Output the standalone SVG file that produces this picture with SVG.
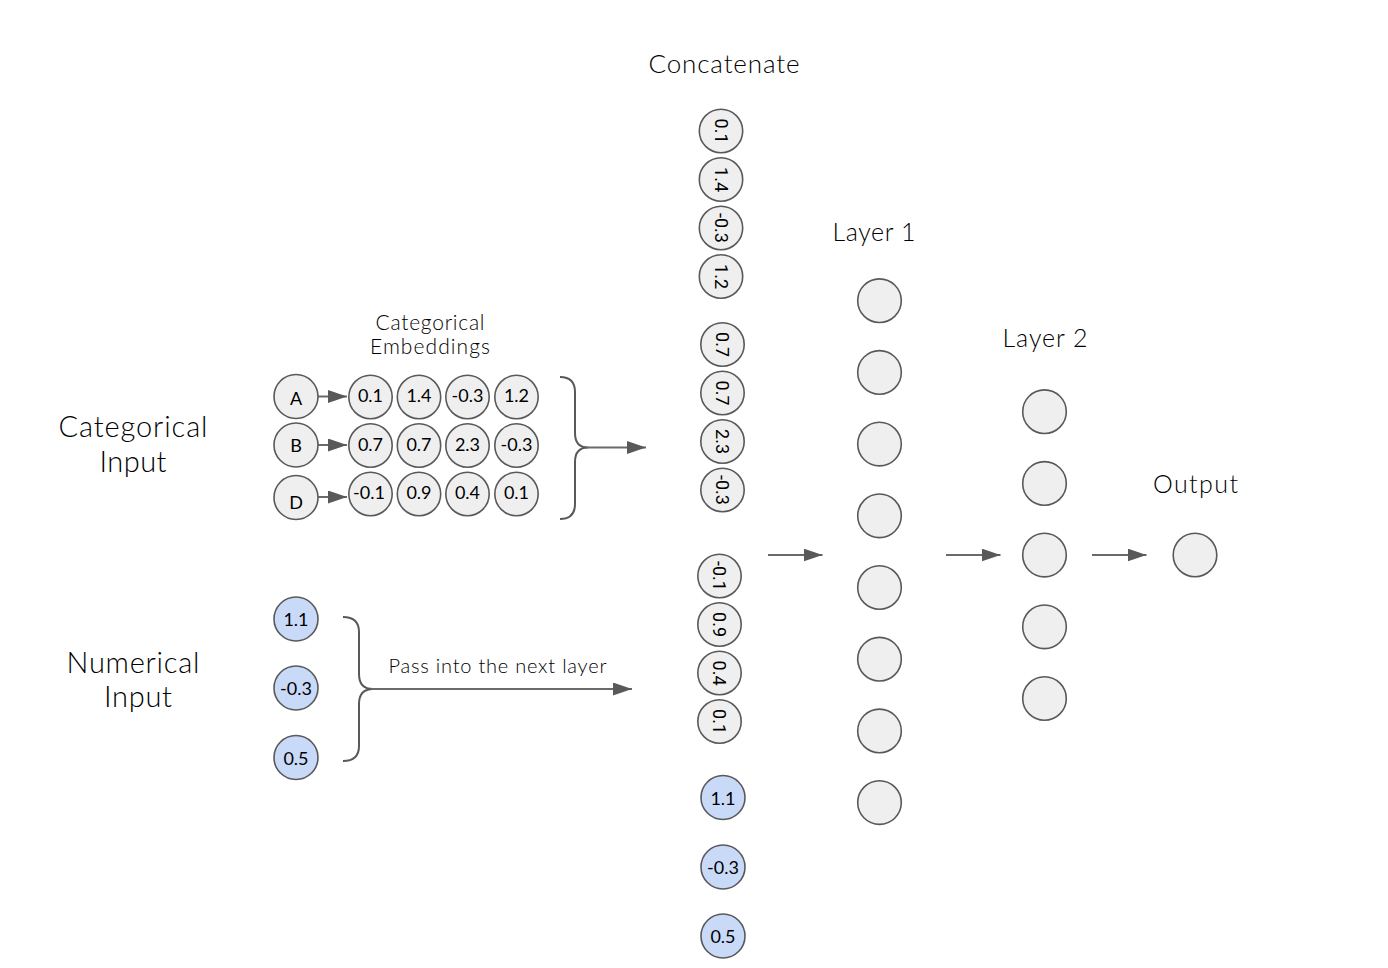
<svg xmlns="http://www.w3.org/2000/svg" width="1388" height="968" viewBox="0 0 1388 968">
<defs>
<marker id="ah" markerUnits="userSpaceOnUse" markerWidth="19" markerHeight="13" refX="19" refY="6.5" orient="auto">
<path d="M0,0 L19,6.5 L0,13 z" fill="#595959"/>
</marker>
<style>
.lbl{font-family:Lato,"Liberation Sans",sans-serif;font-weight:300;fill:#000;text-anchor:middle}
.n{fill:#efefef;stroke:#595959;stroke-width:1.6}
.b{fill:#c9daf8;stroke:#595959;stroke-width:1.6}
.t{font-family:Lato,"Liberation Sans",sans-serif;font-weight:400;font-size:18px;fill:#000;text-anchor:middle;dominant-baseline:central}
.r{font-family:Roboto,"Liberation Sans",sans-serif;font-weight:400;font-size:18px;fill:#000;text-anchor:middle;dominant-baseline:central}
.ln{fill:none;stroke:#6a6a6a;stroke-width:2}
.br{fill:none;stroke:#595959;stroke-width:2}
</style>
</defs>
<rect width="1388" height="968" fill="#fff"/>

<g id="labels">
<text class="lbl" x="724" y="73" font-size="26" textLength="151" lengthAdjust="spacing">Concatenate</text>
<text class="lbl" x="874" y="240.5" font-size="25" textLength="83" lengthAdjust="spacing">Layer 1</text>
<text class="lbl" x="1045" y="346.5" font-size="25" textLength="85" lengthAdjust="spacing">Layer 2</text>
<text class="lbl" x="1195.5" y="493" font-size="25" textLength="85" lengthAdjust="spacing">Output</text>
<text class="lbl" x="133" y="436.5" font-size="29" textLength="149" lengthAdjust="spacing">Categorical</text>
<text class="lbl" x="133" y="471.5" font-size="29" textLength="67" lengthAdjust="spacing">Input</text>
<text class="lbl" x="133" y="673" font-size="29" textLength="133" lengthAdjust="spacing">Numerical</text>
<text class="lbl" x="138" y="706.5" font-size="29" textLength="68" lengthAdjust="spacing">Input</text>
<text class="lbl" x="430" y="330" font-size="21" textLength="109" lengthAdjust="spacing">Categorical</text>
<text class="lbl" x="430" y="353.5" font-size="21" textLength="120" lengthAdjust="spacing">Embeddings</text>
<text class="lbl" x="497.5" y="673" font-size="20" textLength="218" lengthAdjust="spacing">Pass into the next layer</text>
</g>

<g id="connectors">
<line class="ln" x1="318" y1="396.5" x2="347" y2="396.5" marker-end="url(#ah)"/>
<line class="ln" x1="318" y1="445" x2="347" y2="445" marker-end="url(#ah)"/>
<line class="ln" x1="318" y1="497" x2="347" y2="497" marker-end="url(#ah)"/>
<path class="br" d="M560,377 Q575,377 575,392 L575,433 Q575,447.5 588,447.5 Q575,447.5 575,462 L575,504 Q575,519 560,519"/>
<line class="ln" x1="586" y1="447.5" x2="646" y2="447.5" marker-end="url(#ah)"/>
<path class="br" d="M343,617 Q359,617 359,632 L359,674 Q359,689 373,689 Q359,689 359,704 L359,746 Q359,761 343,761"/>
<line class="ln" x1="371" y1="689" x2="632" y2="689" marker-end="url(#ah)"/>
<line class="ln" x1="768" y1="555" x2="822.5" y2="555" marker-end="url(#ah)"/>
<line class="ln" x1="946" y1="555" x2="1000.5" y2="555" marker-end="url(#ah)"/>
<line class="ln" x1="1092" y1="555" x2="1146.5" y2="555" marker-end="url(#ah)"/>
</g>

<g id="cat-inputs">
<g id="in-A"><circle class="n" cx="296" cy="396.5" r="22"/><text class="t" x="296" y="398">A</text></g>
<g id="in-B"><circle class="n" cx="296" cy="445" r="22"/><text class="t" x="296" y="445">B</text></g>
<g id="in-D"><circle class="n" cx="296" cy="497.5" r="22"/><text class="t" x="296" y="502">D</text></g>
</g>

<g id="embeddings">
<g id="e11"><circle class="n" cx="370.5" cy="397" r="21.7"/><text class="t" x="370.5" y="395">0.1</text></g>
<g id="e12"><circle class="n" cx="419" cy="397" r="21.7"/><text class="t" x="419" y="395">1.4</text></g>
<g id="e13"><circle class="n" cx="467.5" cy="397" r="21.7"/><text class="t" x="467.5" y="395">-0.3</text></g>
<g id="e14"><circle class="n" cx="516.5" cy="397" r="21.7"/><text class="t" x="516.5" y="395">1.2</text></g>
<g id="e21"><circle class="n" cx="370.5" cy="445.5" r="21.7"/><text class="t" x="370.5" y="444">0.7</text></g>
<g id="e22"><circle class="n" cx="419" cy="445.5" r="21.7"/><text class="t" x="419" y="444">0.7</text></g>
<g id="e23"><circle class="n" cx="467.5" cy="445.5" r="21.7"/><text class="t" x="467.5" y="444">2.3</text></g>
<g id="e24"><circle class="n" cx="516.5" cy="445.5" r="21.7"/><text class="t" x="516.5" y="444">-0.3</text></g>
<g id="e31"><circle class="n" cx="370.5" cy="494" r="21.7"/><text class="t" x="369" y="492">-0.1</text></g>
<g id="e32"><circle class="n" cx="419" cy="494" r="21.7"/><text class="t" x="419" y="492">0.9</text></g>
<g id="e33"><circle class="n" cx="467.5" cy="494" r="21.7"/><text class="t" x="467.5" y="492">0.4</text></g>
<g id="e34"><circle class="n" cx="516.5" cy="494" r="21.7"/><text class="t" x="516.5" y="492">0.1</text></g>
</g>

<g id="num-inputs">
<g id="ni1"><circle class="b" cx="296" cy="619" r="22"/><text class="t" x="296" y="619">1.1</text></g>
<g id="ni2"><circle class="b" cx="296" cy="688" r="22"/><text class="t" x="296" y="688">-0.3</text></g>
<g id="ni3"><circle class="b" cx="296" cy="757.5" r="22"/><text class="t" x="296" y="758">0.5</text></g>
</g>

<g id="concat">
<g id="c1"><circle class="n" cx="721" cy="131" r="21.7"/><text class="r" transform="translate(721,131) rotate(90)">0.1</text></g>
<g id="c2"><circle class="n" cx="721" cy="179.5" r="21.7"/><text class="r" transform="translate(721,179.5) rotate(90)">1.4</text></g>
<g id="c3"><circle class="n" cx="721" cy="228" r="21.7"/><text class="r" transform="translate(721,228) rotate(90)">-0.3</text></g>
<g id="c4"><circle class="n" cx="721" cy="276.5" r="21.7"/><text class="r" transform="translate(721,276.5) rotate(90)">1.2</text></g>
<g id="c5"><circle class="n" cx="722.5" cy="344.5" r="21.7"/><text class="r" transform="translate(722.5,344.5) rotate(90)">0.7</text></g>
<g id="c6"><circle class="n" cx="722.5" cy="393" r="21.7"/><text class="r" transform="translate(722.5,393) rotate(90)">0.7</text></g>
<g id="c7"><circle class="n" cx="722.5" cy="441.5" r="21.7"/><text class="r" transform="translate(722.5,441.5) rotate(90)">2.3</text></g>
<g id="c8"><circle class="n" cx="722.5" cy="490" r="21.7"/><text class="r" transform="translate(722.5,490) rotate(90)">-0.3</text></g>
<g id="c9"><circle class="n" cx="719.5" cy="576" r="21.7"/><text class="r" transform="translate(719.5,576) rotate(90)">-0.1</text></g>
<g id="c10"><circle class="n" cx="719.5" cy="624.5" r="21.7"/><text class="r" transform="translate(719.5,624.5) rotate(90)">0.9</text></g>
<g id="c11"><circle class="n" cx="719.5" cy="673" r="21.7"/><text class="r" transform="translate(719.5,673) rotate(90)">0.4</text></g>
<g id="c12"><circle class="n" cx="719.5" cy="721.5" r="21.7"/><text class="r" transform="translate(719.5,721.5) rotate(90)">0.1</text></g>
<g id="c13"><circle class="b" cx="723" cy="797.5" r="22"/><text class="t" x="723" y="797.5">1.1</text></g>
<g id="c14"><circle class="b" cx="723" cy="867" r="22"/><text class="t" x="723" y="867">-0.3</text></g>
<g id="c15"><circle class="b" cx="723" cy="936" r="22"/><text class="t" x="723" y="936">0.5</text></g>
</g>

<g id="layer1">
<g id="l1n1"><circle class="n" cx="879.5" cy="300.7" r="21.8"/></g>
<g id="l1n2"><circle class="n" cx="879.5" cy="372.4" r="21.8"/></g>
<g id="l1n3"><circle class="n" cx="879.5" cy="444.1" r="21.8"/></g>
<g id="l1n4"><circle class="n" cx="879.5" cy="515.8" r="21.8"/></g>
<g id="l1n5"><circle class="n" cx="879.5" cy="587.5" r="21.8"/></g>
<g id="l1n6"><circle class="n" cx="879.5" cy="659.2" r="21.8"/></g>
<g id="l1n7"><circle class="n" cx="879.5" cy="730.9" r="21.8"/></g>
<g id="l1n8"><circle class="n" cx="879.5" cy="802.6" r="21.8"/></g>
</g>

<g id="layer2">
<g id="l2n1"><circle class="n" cx="1044.5" cy="411.7" r="21.8"/></g>
<g id="l2n2"><circle class="n" cx="1044.5" cy="483.4" r="21.8"/></g>
<g id="l2n3"><circle class="n" cx="1044.5" cy="555.1" r="21.8"/></g>
<g id="l2n4"><circle class="n" cx="1044.5" cy="626.8" r="21.8"/></g>
<g id="l2n5"><circle class="n" cx="1044.5" cy="698.5" r="21.8"/></g>
</g>

<g id="output">
<circle class="n" cx="1195" cy="555" r="21.8"/>
</g>
</svg>
